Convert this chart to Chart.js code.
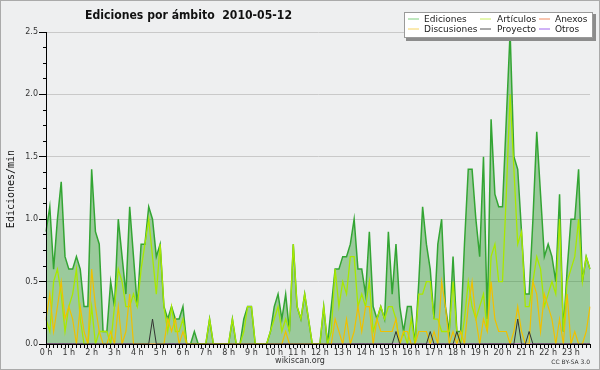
<!DOCTYPE html>
<html>
<head>
<meta charset="utf-8">
<script src="https://cdn.jsdelivr.net/npm/chart.js@4/dist/chart.umd.min.js"></script>
<style>
  html, body { margin: 0; padding: 0; background: #eeeff0; }
  canvas { display: block; }
</style>
</head>
<body>
<canvas id="chart" width="600" height="370"></canvas>
<script>
// hour tick labels (one every 6 points, data is every 10 min)
const hours = ['0 h','1 h','2 h','3 h','4 h','5 h','6 h','7 h','8 h','9 h','10 h','11 h',
               '12 h','13 h','14 h','15 h','16 h','17 h','18 h','19 h','20 h','21 h','22 h','23 h']

// edits per minute, 10 minute buckets, 2 hours per row
const ediciones = [
  0.9, 1.1, 0.6, 1.0, 1.3, 0.7, 0.6, 0.6, 0.7, 0.6, 0.3, 0.3,
  1.4, 0.9, 0.8, 0.1, 0.1, 0.5, 0.3, 1.0, 0.7, 0.4, 1.1, 0.7,
  0.3, 0.8, 0.8, 1.1, 1.0, 0.7, 0.8, 0.3, 0.2, 0.3, 0.2, 0.2,
  0.3, 0, 0, 0.1, 0, 0, 0, 0.2, 0, 0, 0, 0,
  0, 0.2, 0, 0, 0.2, 0.3, 0.3, 0, 0, 0, 0, 0.1,
  0.3, 0.4, 0.2, 0.4, 0.1, 0.8, 0.3, 0.2, 0.4, 0.2, 0, 0,
  0, 0.3, 0, 0.3, 0.6, 0.6, 0.7, 0.7, 0.8, 1.0, 0.6, 0.6,
  0.4, 0.9, 0.3, 0.2, 0.3, 0.2, 0.9, 0.4, 0.8, 0.3, 0.1, 0.3,
  0.3, 0, 0.5, 1.1, 0.8, 0.6, 0.2, 0.8, 1.0, 0.3, 0.1, 0.7,
  0.1, 0.1, 0.8, 1.4, 1.4, 1.0, 0.7, 1.5, 0.2, 1.8, 1.2, 1.1,
  1.1, 1.8, 2.5, 1.5, 1.4, 0.9, 0.4, 0.4, 1.0, 1.7, 1.2, 0.7,
  0.8, 0.7, 0.5, 1.2, 0.1, 0.6, 1.0, 1.0, 1.4, 0.5, 0.7, 0.6
]
const articulos = [
  0.2, 0.1, 0.5, 0.6, 0.4, 0.1, 0.3, 0.4, 0.6, 0.2, 0, 0,
  0.3, 0, 0.1, 0.1, 0.1, 0, 0.3, 0.6, 0.5, 0.3, 0.3, 0.4,
  0.3, 0.6, 0.8, 1.0, 0.7, 0.4, 0.8, 0.3, 0.1, 0.3, 0.1, 0.1,
  0.2, 0, 0, 0, 0, 0, 0, 0.2, 0, 0, 0, 0,
  0, 0.2, 0, 0, 0.1, 0.3, 0.3, 0, 0, 0, 0, 0.1,
  0.2, 0.3, 0.1, 0.2, 0.1, 0.8, 0.3, 0.2, 0.4, 0.2, 0, 0,
  0, 0.3, 0, 0.1, 0.6, 0.3, 0.5, 0.4, 0.7, 0.7, 0.3, 0.4,
  0.3, 0.5, 0.1, 0.2, 0.3, 0.2, 0.3, 0.3, 0.2, 0, 0.1, 0,
  0.2, 0, 0.4, 0.4, 0.5, 0.5, 0.2, 0.2, 0.1, 0.1, 0.1, 0.5,
  0.1, 0, 0.2, 0.5, 0.3, 0.2, 0.3, 0.4, 0.1, 0.7, 0.8, 0.5,
  0.5, 1.2, 2.0, 1.4, 0.8, 0.9, 0.3, 0.3, 0.5, 0.7, 0.6, 0.3,
  0.4, 0.5, 0.4, 1.0, 0.1, 0.5, 0.6, 0.7, 1.0, 0.5, 0.7, 0.6
]
const discusiones = [
  0.2, 0.4, 0.1, 0.3, 0.5, 0.2, 0.3, 0.2, 0, 0.3, 0.1, 0,
  0.6, 0.3, 0.1, 0, 0, 0.1, 0, 0.3, 0, 0.1, 0.4, 0,
  0, 0, 0, 0, 0, 0, 0, 0, 0.2, 0.1, 0.2, 0,
  0.1, 0, 0, 0, 0, 0, 0, 0, 0, 0, 0, 0,
  0, 0, 0, 0, 0, 0, 0, 0, 0, 0, 0, 0,
  0, 0, 0, 0.1, 0, 0, 0, 0, 0, 0, 0, 0,
  0, 0, 0, 0, 0.2, 0.1, 0, 0.2, 0, 0.1, 0.3, 0.1,
  0.3, 0.3, 0, 0.2, 0.1, 0.1, 0.1, 0.1, 0.2, 0, 0.1, 0.1,
  0, 0, 0.1, 0.1, 0.1, 0, 0.1, 0, 0.5, 0.3, 0, 0.1,
  0, 0.1, 0, 0.3, 0.5, 0.2, 0, 0.2, 0.1, 0.5, 0.2, 0.1,
  0.1, 0.1, 0, 0.1, 0.3, 0.1, 0, 0, 0.5, 0.4, 0.1, 0.4,
  0.3, 0.2, 0, 0.2, 0, 0.4, 0, 0.1, 0, 0, 0.1, 0.3
]
const proyecto = [
  0, 0, 0, 0, 0, 0, 0, 0, 0, 0, 0, 0,
  0, 0, 0, 0, 0, 0, 0, 0, 0, 0, 0, 0,
  0, 0, 0, 0, 0.2, 0, 0, 0, 0, 0, 0, 0,
  0, 0, 0, 0, 0, 0, 0, 0, 0, 0, 0, 0,
  0, 0, 0, 0, 0, 0, 0, 0, 0, 0, 0, 0,
  0, 0, 0, 0, 0, 0, 0, 0, 0, 0, 0, 0,
  0, 0, 0, 0, 0, 0, 0, 0, 0, 0, 0, 0,
  0, 0, 0, 0, 0, 0, 0, 0, 0.1, 0, 0, 0,
  0, 0, 0, 0, 0, 0.1, 0, 0, 0, 0, 0, 0,
  0.1, 0, 0, 0, 0, 0, 0, 0, 0, 0, 0, 0,
  0, 0, 0, 0, 0.2, 0, 0, 0.1, 0, 0, 0, 0,
  0, 0, 0, 0, 0, 0, 0, 0, 0, 0, 0, 0
]
const anexos = [
  0, 0, 0, 0, 0, 0, 0, 0, 0, 0, 0, 0,  0, 0, 0, 0, 0, 0, 0, 0, 0, 0, 0, 0,
  0, 0, 0, 0, 0, 0, 0, 0, 0, 0, 0, 0,  0, 0, 0, 0, 0, 0, 0, 0, 0, 0, 0, 0,
  0, 0, 0, 0, 0, 0, 0, 0, 0, 0, 0, 0,  0, 0, 0, 0, 0, 0, 0, 0, 0, 0, 0, 0,
  0, 0, 0, 0, 0, 0, 0, 0, 0, 0, 0, 0,  0, 0, 0, 0, 0, 0, 0, 0, 0, 0, 0, 0,
  0, 0, 0, 0, 0, 0, 0, 0, 0, 0, 0, 0,  0, 0, 0, 0, 0, 0, 0, 0, 0, 0, 0, 0,
  0, 0, 0, 0, 0, 0, 0, 0, 0, 0, 0, 0,  0, 0, 0, 0, 0, 0, 0, 0, 0, 0, 0, 0
]
const otros = [
  0, 0, 0, 0, 0, 0, 0, 0, 0, 0, 0, 0,  0, 0, 0, 0, 0, 0, 0, 0, 0, 0, 0, 0,
  0, 0, 0, 0, 0, 0, 0, 0, 0, 0, 0, 0,  0, 0, 0, 0, 0, 0, 0, 0, 0, 0, 0, 0,
  0, 0, 0, 0, 0, 0, 0, 0, 0, 0, 0, 0,  0, 0, 0, 0, 0, 0, 0, 0, 0, 0, 0, 0,
  0, 0, 0, 0, 0, 0, 0, 0, 0, 0, 0, 0,  0, 0, 0, 0, 0, 0, 0, 0, 0, 0, 0, 0,
  0, 0, 0, 0, 0, 0, 0, 0, 0, 0, 0, 0,  0, 0, 0, 0, 0, 0, 0, 0, 0, 0, 0, 0,
  0, 0, 0, 0, 0, 0, 0, 0, 0, 0, 0, 0,  0, 0, 0, 0, 0, 0, 0, 0, 0, 0, 0, 0
]

const FONT = 'DejaVu Sans'
const isMajor = v => Math.abs(v * 2 - Math.round(v * 2)) < 1e-6

// one category per 10 min bucket, hour name on every 6th
let timeLabels = []
for (let i = 0; i < ediciones.length; i++) {
    timeLabels.push(i % 6 === 0 ? hours[i / 6] : '')
}

// frame, titles, footer and the boxed legend
const decorations = {
    id: 'decorations',
    beforeDraw(chart) {
        const ctx = chart.ctx
        ctx.save()
        ctx.fillStyle = '#eeeff0'
        ctx.fillRect(0, 0, chart.width, chart.height)
        ctx.restore()
    },
    afterDraw(chart) {
        const ctx = chart.ctx
        ctx.save()
        ctx.strokeStyle = '#aaaaaa'
        ctx.lineWidth = 1
        ctx.strokeRect(0.5, 0.5, chart.width - 1, chart.height - 1)

        ctx.fillStyle = '#111'
        ctx.font = 'bold 13px "' + FONT + '"'
        ctx.textAlign = 'left'
        ctx.textBaseline = 'alphabetic'
        ctx.fillText('Ediciones por ámbito  2010-05-12', 85, 19, 207)

        ctx.save()
        ctx.translate(11, 189)
        ctx.rotate(-Math.PI / 2)
        ctx.font = '10px "DejaVu Sans Mono"'
        ctx.textAlign = 'center'
        ctx.textBaseline = 'middle'
        ctx.fillText('Ediciones/min', 0, 0)
        ctx.restore()

        ctx.fillStyle = '#333'
        ctx.font = '8px "' + FONT + '"'
        ctx.textAlign = 'center'
        ctx.textBaseline = 'middle'
        ctx.fillText('wikiscan.org', 300, 361)
        ctx.font = '6px "' + FONT + '"'
        ctx.textAlign = 'right'
        ctx.fillText('CC BY-SA 3.0', 590, 362)

        // legend box with shadow
        ctx.fillStyle = '#8c8c8c'
        ctx.fillRect(406, 14, 190, 27)
        ctx.fillStyle = '#ffffff'
        ctx.fillRect(404, 12, 189, 26)
        ctx.strokeStyle = '#9a9a9a'
        ctx.strokeRect(404.5, 12.5, 188, 25)

        const colSwatch = [408, 480, 539]
        const colText = [424, 497, 555]
        const rowY = [19, 29]
        ctx.font = '9px "' + FONT + '"'
        ctx.textAlign = 'left'
        ctx.textBaseline = 'middle'
        chart.data.datasets.forEach((ds, i) => {
            const col = i % 3
            const row = Math.floor(i / 3)
            ctx.strokeStyle = ds.legendColor
            ctx.lineWidth = 1
            ctx.beginPath()
            ctx.moveTo(colSwatch[col], rowY[row])
            ctx.lineTo(colSwatch[col] + 11, rowY[row])
            ctx.stroke()
            ctx.fillStyle = '#222'
            ctx.fillText(ds.label, colText[col], rowY[row] + 0.5)
        })
        ctx.restore()
    }
}

const lineSet = (label, data, color, legendColor, width, order) => ({
    label: label,
    data: data,
    borderColor: color,
    legendColor: legendColor,
    borderWidth: width,
    pointRadius: 0,
    pointHoverRadius: 0,
    tension: 0,
    fill: false,
    order: order
})

const ed = lineSet('Ediciones', ediciones, '#33a533', '#7fcf7f', 1.5, 6)
ed.fill = 'origin'
ed.backgroundColor = 'rgba(40, 150, 40, 0.42)'

new Chart(document.getElementById('chart'), {
    type: 'line',
    data: {
        labels: timeLabels,
        datasets: [
            ed,
            lineSet('Artículos', articulos, '#a8e800', '#c8ee60', 1.3, 3),
            lineSet('Anexos', anexos, '#f07848', '#f08a60', 1, 5),
            lineSet('Discusiones', discusiones, '#f0c000', '#f6d460', 1.2, 2),
            lineSet('Proyecto', proyecto, '#333333', '#555555', 1, 1),
            lineSet('Otros', otros, '#9a4de8', '#a066ee', 1, 4)
        ]
    },
    plugins: [decorations],
    options: {
        responsive: false,
        animation: false,
        devicePixelRatio: 1,
        layout: { padding: { top: 32, right: 10, left: 0, bottom: 0 } },
        plugins: {
            legend: { display: false },
            title: { display: false },
            tooltip: { enabled: false }
        },
        scales: {
            x: {
                type: 'category',
                offset: false,
                border: { color: '#000', z: 1 },
                grid: {
                    drawOnChartArea: false,
                    tickColor: '#000',
                    tickLength: 4,
                    offset: false,
                    z: 1
                },
                ticks: {
                    autoSkip: false,
                    maxRotation: 0,
                    minRotation: 0,
                    padding: 0,
                    color: '#333',
                    font: { family: FONT, size: 8 }
                },
                afterFit: s => { s.height = 26 }
            },
            y: {
                min: 0,
                max: 2.5,
                border: { color: '#000', z: 1 },
                grid: {
                    color: c => (c.tick && c.tick.value > 0 && isMajor(c.tick.value)) ? '#c9c9c9' : 'rgba(0,0,0,0)',
                    tickColor: '#000',
                    tickLength: 7,
                    tickBorderDash: c => (c.tick && isMajor(c.tick.value)) ? [] : [0, 4, 3, 0]
                },
                ticks: {
                    stepSize: 0.125,
                    autoSkip: false,
                    padding: 1,
                    color: '#333',
                    font: { family: FONT, size: 8 },
                    callback: v => isMajor(v) ? v.toFixed(1) : ''
                },
                afterFit: s => { s.width = 46 }
            }
        }
    }
})
</script>
</body>
</html>
